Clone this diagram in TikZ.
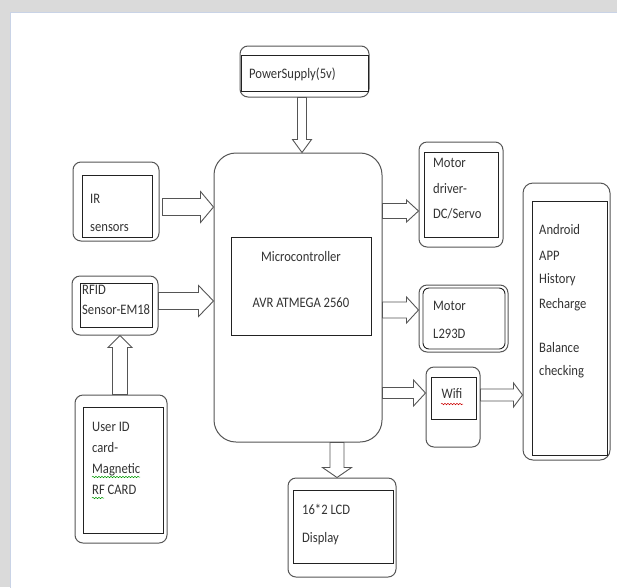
\documentclass[tikz,border=0pt]{standalone}
\usepackage{fontspec}
\setmainfont{Carlito}[FakeStretch=0.87]
\usetikzlibrary{fit,calc,decorations.pathmorphing}
\definecolor{txt}{HTML}{333333}
\definecolor{lnout}{HTML}{555555}
\definecolor{lnin}{HTML}{222222}
\definecolor{bgg}{HTML}{DADADA}
\definecolor{panel}{HTML}{C9D3E6}
\tikzset{
  outerbox/.style={draw=lnout, line width=1pt, rounded corners=8pt, inner sep=0pt, fill=white},
  innerbox/.style={draw=lnin, line width=0.9pt, inner sep=0pt},
  lbl/.style={anchor=base west, inner sep=0pt, text=txt, font=\fontsize{14.5}{17}\selectfont},
  clbl/.style={anchor=base, inner sep=0pt, text=txt, font=\fontsize{14.5}{17}\selectfont},
  blk/.style={draw=lnout, line width=0.9pt, fill=white, line join=miter},
  squig/.style={decorate, decoration={snake, amplitude=0.7pt, segment length=3pt}, line width=0.5pt}
}
% right arrow: #1 start, #2 tip, #3 shaft half, #4 head half, #5 head length
\newcommand\rarr[5]{\draw[blk] let \p1=(#1), \p2=(#2) in
  (\x1,\y2-#3) -- (\x2-#5,\y2-#3) -- (\x2-#5,\y2-#4) -- (\x2,\y2) -- (\x2-#5,\y2+#4) -- (\x2-#5,\y2+#3) -- (\x1,\y2+#3) -- cycle;}
% down arrow
\newcommand\darr[5]{\draw[blk] let \p1=(#1), \p2=(#2) in
  (\x2-#3,\y1) -- (\x2-#3,\y2+#5) -- (\x2-#4,\y2+#5) -- (\x2,\y2) -- (\x2+#4,\y2+#5) -- (\x2+#3,\y2+#5) -- (\x2+#3,\y1) -- cycle;}
% up arrow
\newcommand\uarr[5]{\draw[blk] let \p1=(#1), \p2=(#2) in
  (\x2-#3,\y1) -- (\x2-#3,\y2-#5) -- (\x2-#4,\y2-#5) -- (\x2,\y2) -- (\x2+#4,\y2-#5) -- (\x2+#3,\y2-#5) -- (\x2+#3,\y1) -- cycle;}
\begin{document}
\begin{tikzpicture}[x=1pt, y=-1pt]
\useasboundingbox (0,0) rectangle (617,587);
% background
\fill[bgg] (0,0) rectangle (617,587);
\draw[panel, fill=white, line width=0.8pt] (10,12) rectangle (618,588);

% boxes
\node[outerbox, fit={(240,46) (369,97)}] (pw) {};
\node[innerbox, fit={(241,55) (368,91)}] (pwin) {};
\node[lbl] (pwt) at (249,78) {PowerSupply(5v)};

\node[outerbox, rounded corners=22pt, fit={(214,153) (382,442)}] (mcu) {};
\node[innerbox, fit={(231,237) (371,335)}] (mcuin) {};
\node[clbl] (mcut1) at (301,261) {Microcontroller};
\node[clbl] (mcut2) at (301,307) {AVR ATMEGA 2560};

\node[outerbox, fit={(73,162) (159,241)}] (ir) {};
\node[innerbox, fit={(82,175) (152,237)}] (irin) {};
\node[lbl] (irt1) at (90,203) {IR};
\node[lbl] (irt2) at (90,231) {sensors};

\node[outerbox, fit={(72,276) (158,335)}] (rfid) {};
\node[innerbox, fit={(80,283) (152,327)}] (rfidin) {};
\node[lbl] (rft1) at (82,294) {RFID};
\node[lbl] (rft2) at (82,314) {Sensor-EM18};

\node[outerbox, fit={(75,395) (167,543)}] (card) {};
\node[innerbox, fit={(83,407) (163,533)}] (cardin) {};
\node[lbl] (ct1) at (92,431) {User ID};
\node[lbl] (ct2) at (92,452) {card-};
\node[lbl] (ct3) at (92,473) {Magnetic};
\node[lbl] (ct4) at (92,494) {RF CARD};
\draw[green!60!black, squig] (92,477) -- (140,477);
\draw[green!60!black, squig] (92,498) -- (104,498);

\node[outerbox, fit={(419,142) (503,247)}] (mdrv) {};
\node[innerbox, fit={(424,152) (498,237)}] (mdrvin) {};
\node[lbl] (md1) at (433,167) {Motor};
\node[lbl] (md2) at (433,193) {driver-};
\node[lbl] (md3) at (433,218) {DC/Servo};

\node[outerbox, fit={(419,285) (508,352)}] (mot) {};
\node[innerbox, rounded corners=6pt, fit={(423,288) (505,349)}] (motin) {};
\node[lbl] (mt1) at (433,310) {Motor};
\node[lbl] (mt2) at (433,338) {L293D};

\node[outerbox, fit={(426,367) (480,447)}] (wifi) {};
\node[innerbox, fit={(431,377) (476,419)}] (wifiin) {};
\node[clbl] (wt) at (452,398) {Wifi};
\draw[red!80!black, squig] (441,404) -- (463,404);

\node[outerbox, rounded corners=10pt, fit={(523,183) (610,460)}] (app) {};
\node[innerbox, fit={(532,201) (607,455)}] (appin) {};
\node[lbl] (a1) at (539,234) {Android};
\node[lbl] (a2) at (539,260) {APP};
\node[lbl] (a3) at (539,283) {History};
\node[lbl] (a4) at (539,308) {Recharge};
\node[lbl] (a5) at (539,352) {Balance};
\node[lbl] (a6) at (539,375) {checking};

\node[outerbox, fit={(288,478) (396,577)}] (lcd) {};
\node[innerbox, fit={(293,490) (393,563)}] (lcdin) {};
\node[lbl] (lt1) at (302,514) {16*2 LCD};
\node[lbl] (lt2) at (302,542) {Display};

% arrow end points
\coordinate (pwS) at (pw.south -| 302,0);
\coordinate (pwT) at (mcu.north -| 302,0);
\coordinate (irS) at ([xshift=3pt]ir.east);
\coordinate (irT) at (mcu.west |- 0,207);
\coordinate (rfS) at (rfid.east);
\coordinate (rfT) at (mcu.west |- 0,301);
\coordinate (cdS) at (card.north -| 120,0);
\coordinate (cdT) at (rfid.south -| 120,0);
\coordinate (mdS) at (mcu.east |- 0,211);
\coordinate (mdT) at (mdrv.west |- 0,211);
\coordinate (mtS) at (mcu.east |- 0,310);
\coordinate (mtT) at (mot.west |- 0,310);
\coordinate (wfS) at (mcu.east |- 0,393);
\coordinate (wfT) at (wifi.west |- 0,393);
\coordinate (apS) at (wifi.east |- 0,395);
\coordinate (apT) at (app.west |- 0,395);
\coordinate (lcS) at (mcu.south -| 337,0);
\coordinate (lcT) at (lcd.north -| 337,0);

% block arrows
\darr{pwS}{pwT}{4.5}{9.5}{13}
\rarr{irS}{irT}{8.5}{15.5}{13}
\rarr{rfS}{rfT}{8.5}{15.5}{15}
\uarr{cdS}{cdT}{7.5}{12}{12}
\rarr{mdS}{mdT}{7.5}{11}{12}
\rarr{mtS}{mtT}{8}{13}{12}
\rarr{wfS}{wfT}{5.5}{13}{12}
\rarr{apS}{apT}{6}{12}{9}
\darr{lcS}{lcT}{7}{14.5}{10}
\end{tikzpicture}
\end{document}
